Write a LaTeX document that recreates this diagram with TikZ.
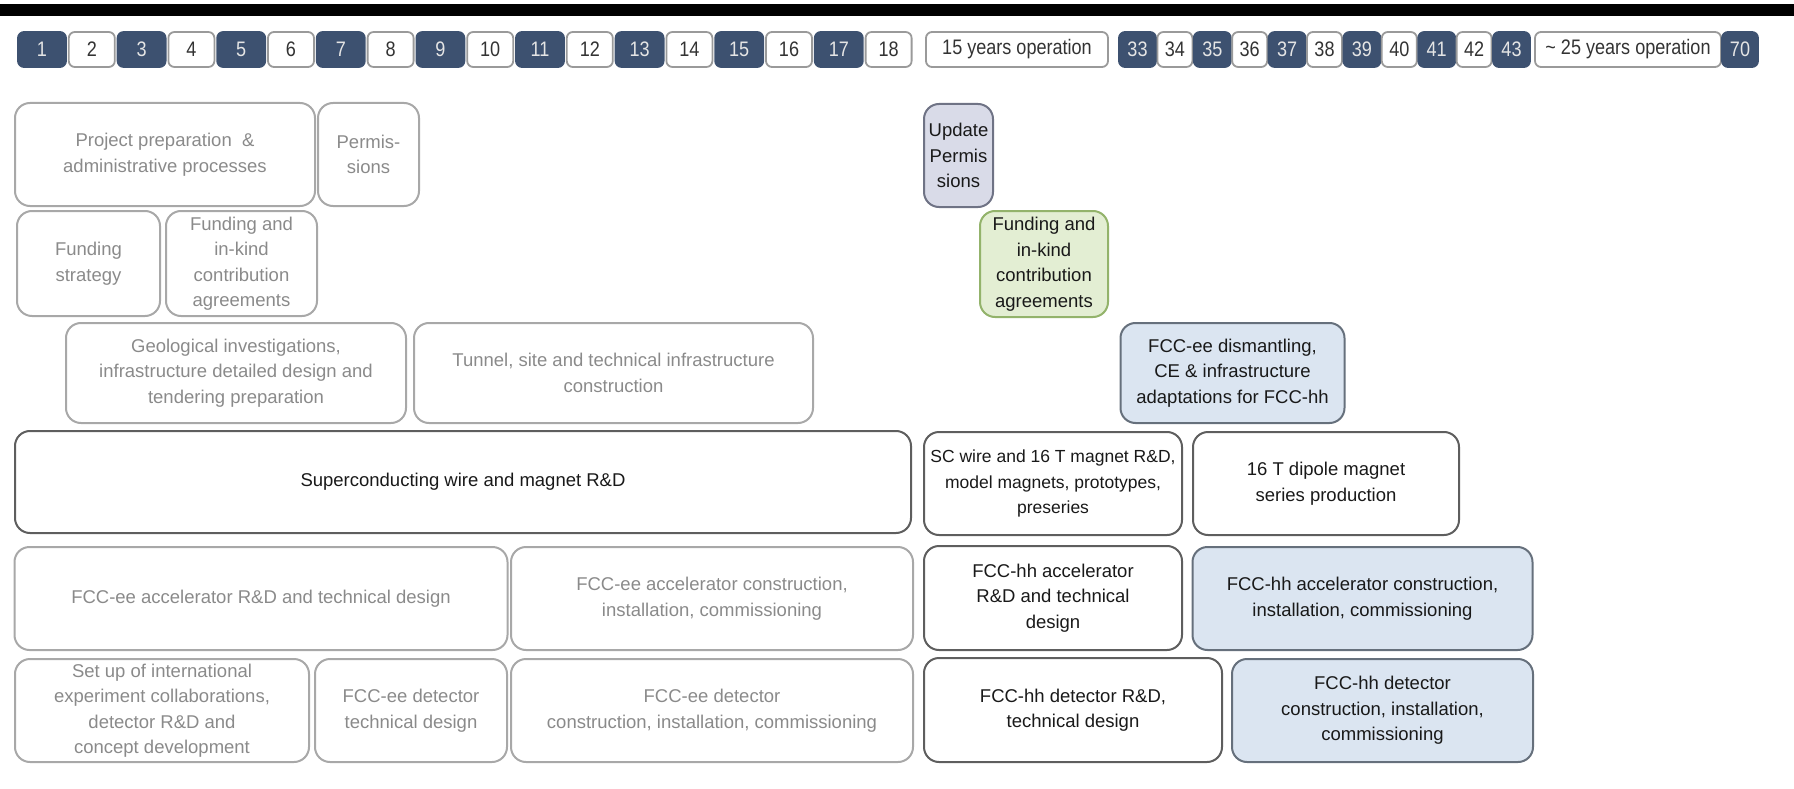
\documentclass[tikz,border=0pt]{standalone}
\usepackage{fontspec}
\setmainfont{Liberation Sans}
\newfontfamily\numfont[FakeStretch=0.86]{Liberation Sans}
\definecolor{navy}{HTML}{3D5170}
\definecolor{numgray}{HTML}{9A9A9A}
\definecolor{boxgray}{HTML}{A8A8A8}
\definecolor{txtgray}{HTML}{8A8A8A}
\definecolor{edgedark}{HTML}{5E5E5E}
\definecolor{updfill}{HTML}{D9DBE8}
\definecolor{updedge}{HTML}{6F7385}
\definecolor{grnfill}{HTML}{E3EED3}
\definecolor{grnedge}{HTML}{93B36B}
\definecolor{bluefill}{HTML}{DBE5F1}
\definecolor{blueedge}{HTML}{66707C}
\begin{document}
\begin{tikzpicture}[x=1pt,y=-1pt,
  numbox/.style={rounded corners=6, minimum height=35, inner sep=0pt, line width=1.8,
    font=\numfont\fontsize{21}{21}\selectfont},
  numdark/.style={numbox, fill=navy, draw=navy, text=white!90!black},
  numlight/.style={numbox, fill=white, draw=numgray, text=black!80},
  task/.style={rounded corners=15, line width=2, align=center, inner sep=2pt,
    font=\fontsize{18.5}{25.5}\selectfont},
  grey/.style={task, draw=boxgray, text=txtgray},
  dark/.style={task, draw=edgedark, text=black!90},
  upd/.style={task, fill=updfill, draw=updedge, text=black!90},
  grn/.style={task, fill=grnfill, draw=grnedge, text=black!90},
  blu/.style={task, fill=bluefill, draw=blueedge, text=black!90}]
\useasboundingbox (0,0) rectangle (1794,789);
\fill[black] (0,4) rectangle (1794,16);
% year row
\foreach \i in {1,...,18}{
  \pgfmathsetmacro\xx{42+49.8*(\i-1)}
  \ifodd\i
    \node[numdark, minimum width=48] (n\i) at (\xx,49.5) {\i};
  \else
    \node[numlight, minimum width=46] (n\i) at (\xx,49.5) {\i};
  \fi
}
\node[numlight, minimum width=182] (op15) at (1017,49.5) {15 years operation};
\foreach \i in {33,...,43}{
  \pgfmathsetmacro\xx{1137.5+37.4*(\i-33)}
  \ifodd\i
    \node[numdark, minimum width=37] (n\i) at (\xx,49.5) {\i};
  \else
    \node[numlight, minimum width=35] (n\i) at (\xx,49.5) {\i};
  \fi
}
\node[numlight, minimum width=186] (op25) at (1628,49.5) {\textasciitilde\ 25 years operation};
\node[numdark, minimum width=36] (n70) at (1740,49.5) {70};
% row 1
\node[grey, minimum width=300, minimum height=103] (pp) at (165,154.5) {Project preparation\ \ \&\\administrative processes};
\node[grey, minimum width=101, minimum height=103] (perm) at (368.5,154.5) {Permis-\\sions};
\node[upd, minimum width=69, minimum height=103, inner sep=0pt] (updp) at (958.5,155.5) {Update\\Permis\\sions};
% row 2
\node[grey, minimum width=143, minimum height=105] (fs) at (88.5,263.5) {Funding\\strategy};
\node[grey, minimum width=151, minimum height=105] (fik) at (241.5,263.5) {Funding and\\in-kind\\contribution\\agreements};
\node[grn, minimum width=128, minimum height=106, inner sep=0pt] (gfik) at (1044,264) {Funding and\\in-kind\\contribution\\agreements};
% row 3
\node[grey, minimum width=340, minimum height=100] (geo) at (236,373) {Geological investigations,\\infrastructure detailed design and\\tendering preparation};
\node[grey, minimum width=399, minimum height=100] (tun) at (613.5,373) {Tunnel, site and technical infrastructure\\construction};
\node[blu, minimum width=224, minimum height=100] (dis) at (1232.5,373) {FCC-ee dismantling,\\CE \& infrastructure\\adaptations for FCC-hh};
% row 4
\node[dark, minimum width=896, minimum height=102] (sc) at (463,482) {Superconducting wire and magnet R\&D};
\node[dark, minimum width=258, minimum height=103, inner sep=0pt, font=\fontsize{17.5}{25.5}\selectfont] (scw) at (1053,483.5) {SC wire and 16 T magnet R\&D,\\model magnets, prototypes,\\preseries};
\node[dark, minimum width=266, minimum height=103] (dip) at (1326,483.5) {16 T dipole magnet\\series production};
% row 5
\node[grey, minimum width=493, minimum height=103] (eeacc) at (261,598.5) {FCC-ee accelerator R\&D and technical design};
\node[grey, minimum width=402, minimum height=103] (eecon) at (712,598.5) {FCC-ee accelerator construction,\\installation, commissioning};
\node[dark, minimum width=258, minimum height=104] (hhacc) at (1053,598) {FCC-hh accelerator\\R\&D and technical\\design};
\node[blu, minimum width=340, minimum height=103] (hhcon) at (1362.5,598.5) {FCC-hh accelerator construction,\\installation, commissioning};
% row 6
\node[grey, minimum width=294, minimum height=103] (setup) at (162,710.5) {Set up of international\\experiment collaborations,\\detector R\&D and\\concept development};
\node[grey, minimum width=192, minimum height=103] (eedet) at (411,710.5) {FCC-ee detector\\technical design};
\node[grey, minimum width=402, minimum height=103] (eedetc) at (712,710.5) {FCC-ee detector\\construction, installation, commissioning};
\node[dark, minimum width=298, minimum height=104] (hhdet) at (1073,710) {FCC-hh detector R\&D,\\technical design};
\node[blu, minimum width=301, minimum height=103] (hhdetc) at (1382.5,710.5) {FCC-hh detector\\construction, installation,\\commissioning};
\end{tikzpicture}
\end{document}
